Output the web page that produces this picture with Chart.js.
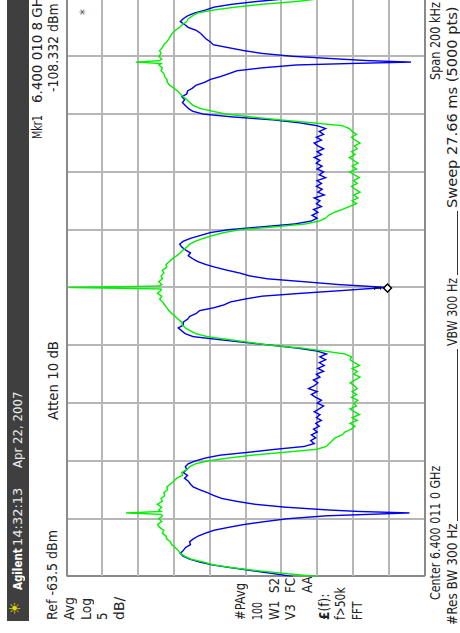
<!DOCTYPE html>
<html>
<head>
<meta charset="utf-8">
<title>Spectrum analyzer - channel power</title>
<script src="https://cdn.jsdelivr.net/npm/chart.js@4.4.1/dist/chart.umd.min.js"></script>
<style>
  html, body { margin: 0; padding: 0; background: #fff; overflow: hidden; }
  body { width: 460px; height: 633px; position: relative; }
  /* the instrument screen is laid out landscape, then turned on its side */
  #screen { position: absolute; left: 0; top: 0; width: 633px; height: 460px;
            transform-origin: 0 0; transform: translateY(633px) rotate(-90deg); }
  #titlebar { position: absolute; left: 12px; top: 7px; width: 640px; height: 22px; background: #3f3f3f; }
  .t { position: absolute; font: 14px "DejaVu Sans", sans-serif; color: #222; white-space: pre;
       line-height: 16px; transform-origin: 0 0; transform: scaleX(0.85); }
  .hd { position: absolute; font: 13px "DejaVu Sans", sans-serif; color: #ececec; white-space: pre;
        line-height: 15px; transform-origin: 0 0; }
  .rule { position: absolute; height: 1px; background: #333; }
  #sa { position: absolute; left: 51px; top: 61px; }
</style>
</head>
<body>
<div id="screen">
  <div id="titlebar"></div>
  <div class="hd" style="left:18px; top:8px; font-size:15px; color:#e0dc00;">☀</div>
  <div class="hd" style="left:43px; top:10px; font-weight:bold; color:#fff;" data-w="42">Agilent</div>
  <div class="hd" style="left:87px; top:10px;" data-w="58">14:32:13</div>
  <div class="hd" style="left:165px; top:10px;" data-w="77">Apr 22, 2007</div>

  <div class="t" style="left:494px; top:29px;" data-w="24">Mkr1</div>
  <div class="t" style="left:530px; top:29px;" data-w="113">6.400 010 8 GHz</div>
  <div class="t" style="left:13px; top:44px;" data-w="90">Ref -63.5 dBm</div>
  <div class="t" style="left:213px; top:45px;" data-w="79">Atten 10 dB</div>
  <div class="t" style="left:541px; top:45px;" data-w="89">-108.332 dBm</div>

  <div class="t" style="left:13px; top:61px;" data-w="23">Avg</div>
  <div class="t" style="left:13px; top:78px;" data-w="22">Log</div>
  <div class="t" style="left:13px; top:94px;">5</div>
  <div class="t" style="left:13px; top:111px;" data-w="23">dB/</div>

  <div class="t" style="left:13px; top:232px;" data-w="37">#PAvg</div>
  <div class="t" style="left:13px; top:249px;" data-w="18">100</div>
  <div class="t" style="left:13px; top:266px;">W1</div>
  <div class="t" style="left:40px; top:266px;">S2</div>
  <div class="t" style="left:13px; top:282px;">V3</div>
  <div class="t" style="left:40px; top:282px;">FC</div>
  <div class="t" style="left:40px; top:299px;">AA</div>
  <div class="t" style="left:13px; top:316px;" data-w="26"><b>£</b>(f):</div>
  <div class="t" style="left:13px; top:332px;" data-w="33">f&gt;50k</div>
  <div class="t" style="left:13px; top:349px;" data-w="18">FFT</div>

  <div class="t" style="left:618px; top:76px; color:#555;">*</div>

  <div class="t" style="left:33px; top:427px;" data-w="134">Center 6.400 011 0 GHz</div>
  <div class="t" style="left:553px; top:427px;" data-w="78">Span 200 kHz</div>
  <div class="t" style="left:8px; top:444px;" data-w="102">#Res BW 300 Hz</div>
  <div class="t" style="left:287px; top:444px;" data-w="68">VBW 300 Hz</div>
  <div class="t" style="left:425px; top:444px;" data-w="201">Sweep 27.66 ms (5000 pts)</div>
  <div class="rule" style="left:112px; top:457px; width:172px;"></div>
  <div class="rule" style="left:358px; top:457px; width:64px;"></div>

  <canvas id="sa" width="589" height="369"></canvas>
</div>

<script>
// frequency offset from center (6.400 011 0 GHz), kHz
const freqKHz = [
  -100, -99, -98, -97, -96, -95, -94, -93, -92, -91,
  -90, -89, -88, -87, -86, -85, -84, -83, -82, -81,
  -80, -79, -78.5, -78, -77.5, -77, -76, -75, -74, -73,
  -72, -71, -70, -69, -68, -67, -66, -65, -64, -63,
  -62, -61, -60, -59, -58, -57, -56, -55, -54, -53,
  -52, -51, -50, -49, -48, -47, -46, -45, -44, -43,
  -42, -41, -40, -39, -38, -37, -36, -35, -34, -33,
  -32, -31, -30, -29, -28, -27, -26, -25, -24, -23,
  -22, -21, -20, -19, -18, -17, -16, -15, -14, -13,
  -12, -11, -10, -9, -8, -7, -6, -5, -4, -3,
  -2, -1, -0.5, 0, 0.5, 1, 2, 3, 4, 5,
  6, 7, 8, 9, 10, 11, 12, 13, 14, 15,
  16, 17, 18, 19, 20, 21, 22, 23, 24, 25,
  26, 27, 28, 29, 30, 31, 32, 33, 34, 35,
  36, 37, 38, 39, 40, 41, 42, 43, 44, 45,
  46, 47, 48, 49, 50, 51, 52, 53, 54, 55,
  56, 57, 58, 59, 60, 61, 62, 63, 64, 65,
  66, 67, 68, 69, 70, 71, 72, 73, 74, 75,
  76, 77, 77.5, 78, 78.5, 79, 80, 81, 82, 83,
  84, 85, 86, 87, 88, 89, 90, 91, 92, 93,
  94, 95, 96, 97, 98, 99, 100
];

// trace 1 (blue), dBm
const trace1Dbm = [
  -95.1, -92.4, -89.5, -86.6, -83.9, -82.1, -80.7, -79.8, -79.4, -79.8,
  -80.1, -80.8, -80.7, -81.2, -81.9, -82.9, -84.1, -86.1, -88.3, -91.2,
  -94.4, -99.8, -105.7, -111.4, -104.4, -100.2, -94.0, -89.8, -87.3, -85.2,
  -84.1, -83.2, -82.1, -81.2, -80.8, -80.5, -80.0, -80.4, -79.8, -80.3,
  -80.1, -80.5, -81.5, -82.9, -85.0, -89.0, -92.6, -96.7, -98.1, -97.6,
  -98.3, -97.7, -98.5, -98.0, -98.8, -98.3, -99.1, -98.4, -98.9, -98.1,
  -98.8, -99.4, -98.5, -99.1, -98.3, -97.7, -98.5, -97.3, -98.1, -98.6,
  -98.0, -98.9, -98.4, -99.4, -98.6, -99.5, -98.8, -99.7, -98.9, -99.8,
  -98.5, -95.8, -92.2, -88.4, -84.7, -81.2, -80.1, -79.6, -79.1, -79.8,
  -79.8, -80.4, -80.7, -81.6, -82.1, -84.1, -85.5, -86.4, -88.4, -90.8,
  -96.3, -102.3, -105.1, -108.3, -105.1, -101.6, -96.7, -91.6, -89.1, -87.7,
  -85.9, -84.3, -82.9, -81.8, -81.1, -80.5, -80.8, -80.1, -79.6, -79.3,
  -79.8, -80.8, -82.2, -83.6, -86.1, -90.8, -95.4, -97.7, -98.5, -97.8,
  -98.6, -98.0, -99.1, -98.4, -98.9, -98.1, -99.5, -98.6, -99.2, -98.4,
  -99.1, -98.5, -99.7, -98.8, -99.4, -98.5, -99.2, -98.4, -98.9, -98.1,
  -99.1, -98.5, -99.4, -98.6, -98.1, -99.1, -98.4, -99.4, -98.8, -99.7,
  -98.5, -96.0, -92.4, -86.8, -82.6, -81.1, -80.5, -80.1, -79.7, -80.0,
  -79.6, -80.3, -80.4, -81.1, -81.6, -82.8, -83.6, -85.0, -86.2, -87.3,
  -90.8, -95.6, -103.0, -111.6, -105.7, -102.0, -95.1, -90.8, -88.2, -86.1,
  -84.0, -83.6, -83.0, -82.6, -82.2, -81.6, -80.5, -80.0, -79.4, -79.8,
  -80.4, -81.4, -82.9, -84.1, -86.6, -90.2, -94.7
];

// trace 2 (green), dBm
const trace2Dbm = [
  -98.5, -94.2, -90.2, -86.8, -84.1, -82.6, -80.9, -80.0, -79.4, -79.1,
  -78.7, -78.2, -78.0, -77.5, -77.4, -76.9, -77.1, -76.5, -76.2, -76.8,
  -76.4, -76.9, -76.7, -71.8, -76.7, -76.4, -76.8, -76.2, -76.9, -76.7,
  -77.2, -77.1, -77.6, -77.5, -78.0, -78.5, -78.9, -79.7, -79.6, -80.3,
  -80.7, -81.5, -83.3, -86.1, -89.5, -94.0, -98.4, -99.8, -100.2, -100.6,
  -101.0, -102.0, -102.4, -103.3, -103.8, -103.1, -104.1, -103.4, -104.4, -103.7,
  -103.1, -104.0, -103.6, -104.2, -103.3, -104.0, -103.4, -104.1, -103.7, -103.1,
  -103.8, -104.5, -103.6, -104.1, -103.4, -104.4, -103.7, -103.1, -103.3, -102.4,
  -99.5, -96.5, -92.0, -89.1, -86.1, -83.2, -81.6, -80.8, -80.1, -79.7,
  -79.6, -79.1, -78.7, -78.2, -77.8, -77.5, -77.2, -76.9, -76.5, -76.8,
  -76.2, -76.7, -76.7, -63.8, -76.4, -76.8, -76.4, -76.9, -76.7, -77.1,
  -76.9, -77.5, -77.4, -77.9, -78.3, -78.9, -79.4, -79.8, -80.3, -80.7,
  -81.5, -82.6, -83.9, -85.5, -87.7, -92.7, -96.9, -98.8, -99.7, -100.1,
  -100.9, -102.0, -103.0, -104.0, -103.4, -104.2, -103.6, -104.5, -103.8, -103.3,
  -104.1, -103.6, -104.4, -103.7, -103.1, -104.0, -103.4, -104.2, -103.6, -103.0,
  -103.8, -103.3, -104.1, -103.7, -104.5, -103.8, -103.3, -104.0, -103.4, -103.0,
  -102.0, -97.8, -93.3, -89.4, -85.8, -83.9, -82.1, -81.2, -80.7, -80.3,
  -79.8, -79.4, -79.0, -78.5, -77.9, -77.6, -77.5, -77.2, -77.1, -76.7,
  -76.9, -76.4, -76.7, -73.2, -76.5, -76.8, -76.4, -76.7, -76.5, -76.9,
  -77.1, -77.5, -77.8, -78.0, -78.3, -78.7, -79.3, -79.7, -80.3, -80.5,
  -81.1, -81.8, -84.0, -87.0, -90.8, -95.8, -99.1
];

// marker 1: 6.400 010 8 GHz, -108.332 dBm
const markerFreqKHz = [-0.2];
const markerDbm = [-108.332];

// display setup: Ref -63.5 dBm, 5 dB/div, span 200 kHz, 10 x 10 graticule
const refLevel = -63.5;
const dbPerDiv = 5;
const spanKHz = 200;
const divisions = 10;

// stretch each readout line to its slot on the screen
document.querySelectorAll('[data-w]').forEach(function (el) {
  const w = parseFloat(el.dataset.w);
  el.style.transform = 'scaleX(' + (w / el.offsetWidth).toFixed(3) + ')';
});

function toPoints(xs, ys) {
  return xs.map((x, i) => ({ x: x, y: ys[i] }));
}

// draws the marker number just above the diamond
const markerNumber = {
  id: 'markerNumber',
  afterDatasetsDraw(chart) {
    const pt = chart.getDatasetMeta(0).data[0];
    if (!pt) return;
    const c = chart.ctx;
    c.save();
    c.fillStyle = '#000';
    c.font = '9px "DejaVu Sans"';
    c.textAlign = 'center';
    c.textBaseline = 'bottom';
    c.fillText('1', pt.x, pt.y - 4);
    c.restore();
  }
};

function gridColor(c) {
  return (c.index === 0 || c.index === divisions) ? '#8a8a8a' : '#b6b6b6';
}

new Chart(document.getElementById('sa'), {
  type: 'scatter',
  data: {
    datasets: [
      {
        label: 'Mkr1',
        data: toPoints(markerFreqKHz, markerDbm),
        pointStyle: 'rectRot',
        pointRadius: 4,
        borderColor: '#000',
        backgroundColor: '#fff',
        borderWidth: 1.5
      },
      {
        label: 'Trace 2',
        data: toPoints(freqKHz, trace2Dbm),
        showLine: true,
        borderColor: '#00f000',
        borderWidth: 1.4,
        pointRadius: 0
      },
      {
        label: 'Trace 1',
        data: toPoints(freqKHz, trace1Dbm),
        showLine: true,
        borderColor: '#0000f0',
        borderWidth: 1.4,
        pointRadius: 0
      }
    ]
  },
  options: {
    responsive: false,
    animation: false,
    layout: { padding: 4 },
    plugins: {
      legend: { display: false },
      tooltip: { enabled: false }
    },
    scales: {
      x: {
        type: 'linear',
        min: -spanKHz / 2,
        max: spanKHz / 2,
        ticks: { display: false, stepSize: spanKHz / divisions },
        grid: { color: gridColor, lineWidth: 2, drawTicks: false },
        border: { display: false }
      },
      y: {
        type: 'linear',
        min: refLevel - dbPerDiv * divisions,
        max: refLevel,
        ticks: { display: false, stepSize: dbPerDiv },
        grid: { color: gridColor, lineWidth: 2, drawTicks: false },
        border: { display: false }
      }
    }
  },
  plugins: [markerNumber]
});
</script>
</body>
</html>
